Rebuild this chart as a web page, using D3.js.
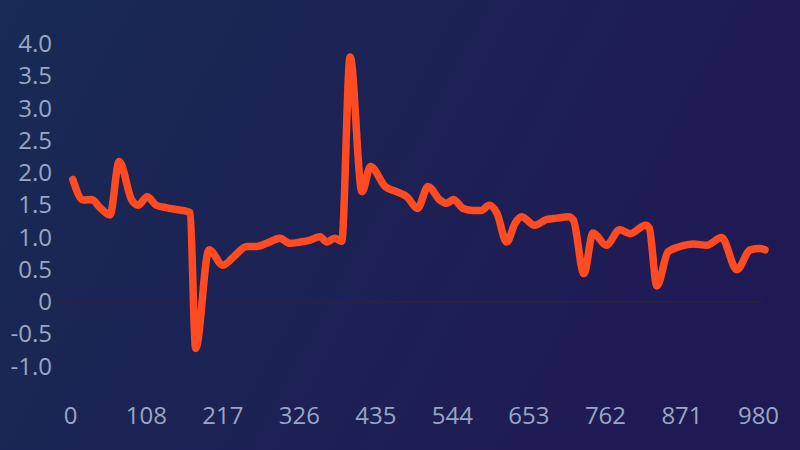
<!DOCTYPE html>
<html>
<head>
<meta charset="utf-8">
<script src="https://cdn.jsdelivr.net/npm/d3@7"></script>
<style>
html,body{margin:0;padding:0;background:#1a2650;}
svg{display:block;}
</style>
</head>
<body>
<svg id="chart" width="800" height="450"></svg>
<script>
const xIndex = [4,19,31,43,57,70,88,97,110,123,138,154,168,171,179,198,218,233,252,266,280,299,313,328,342,356,366,377,387,399,416,428,449,465,480,495,510,527,537,546,560,574,586,597,608,622,634,643,662,679,693,710,717,732,745,764,783,798,820,825,836,852,869,888,907,928,950,969,983,990];
const yValue = [1.90,1.58,1.59,1.46,1.35,2.18,1.58,1.50,1.63,1.50,1.46,1.43,1.40,1.38,-0.72,0.81,0.57,0.70,0.86,0.86,0.91,0.99,0.91,0.93,0.96,1.01,0.93,0.99,0.94,3.80,1.71,2.10,1.79,1.71,1.63,1.45,1.79,1.58,1.53,1.59,1.45,1.42,1.42,1.50,1.38,0.93,1.22,1.32,1.19,1.28,1.30,1.32,1.27,0.44,1.07,0.88,1.12,1.06,1.19,1.15,0.25,0.78,0.86,0.90,0.88,1.00,0.50,0.81,0.83,0.81];
const xTicks = [0,108,217,326,435,544,653,762,871,980];
const yTicks = [-1.0,-0.5,0,0.5,1.0,1.5,2.0,2.5,3.0,3.5,4.0];

const svg = d3.select("#chart");
const defs = svg.append("defs");
const grad = defs.append("linearGradient").attr("id","bg").attr("x1","0").attr("y1","0").attr("x2","1").attr("y2","0.3");
grad.append("stop").attr("offset","0%").attr("stop-color","#182a55");
grad.append("stop").attr("offset","100%").attr("stop-color","#201a54");
svg.append("rect").attr("width",800).attr("height",450).attr("fill","url(#bg)");

const x = d3.scaleLinear().domain([0,980]).range([70,758]);
const y = d3.scaleLinear().domain([-1,4]).range([366.5,44]);

// zero line
svg.append("line")
  .attr("x1",58).attr("x2",762)
  .attr("y1",y(0)).attr("y2",y(0))
  .attr("stroke","#2a2340").attr("stroke-width",1.5);

const fmtY = d => d === 0 ? "0" : d.toFixed(1);

const yAxis = svg.append("g")
  .attr("transform","translate(52,0)")
  .call(d3.axisLeft(y).tickValues(yTicks).tickFormat(fmtY).tickSize(0).tickPadding(0));
yAxis.select(".domain").remove();
yAxis.selectAll("text")
  .attr("fill","#98a6c6")
  .style("font-family","'Open Sans', sans-serif")
  .style("font-size","24px");

const xAxis = svg.append("g")
  .attr("transform","translate(0,407)")
  .call(d3.axisBottom(x).tickValues(xTicks).tickFormat(d3.format("d")).tickSize(0).tickPadding(0));
xAxis.select(".domain").remove();
xAxis.selectAll("text")
  .attr("fill","#98a6c6")
  .style("font-family","'Open Sans', sans-serif")
  .style("font-size","24px");

const data = xIndex.map((d,i) => [d, yValue[i]]);
const line = d3.line()
  .x(d => x(d[0]))
  .y(d => y(d[1]))
  .curve(d3.curveMonotoneX);

svg.append("path")
  .datum(data)
  .attr("d", line)
  .attr("fill","none")
  .attr("stroke","#ff4b22")
  .attr("stroke-width",7.5)
  .attr("stroke-linejoin","round")
  .attr("stroke-linecap","round");
</script>
</body>
</html>
